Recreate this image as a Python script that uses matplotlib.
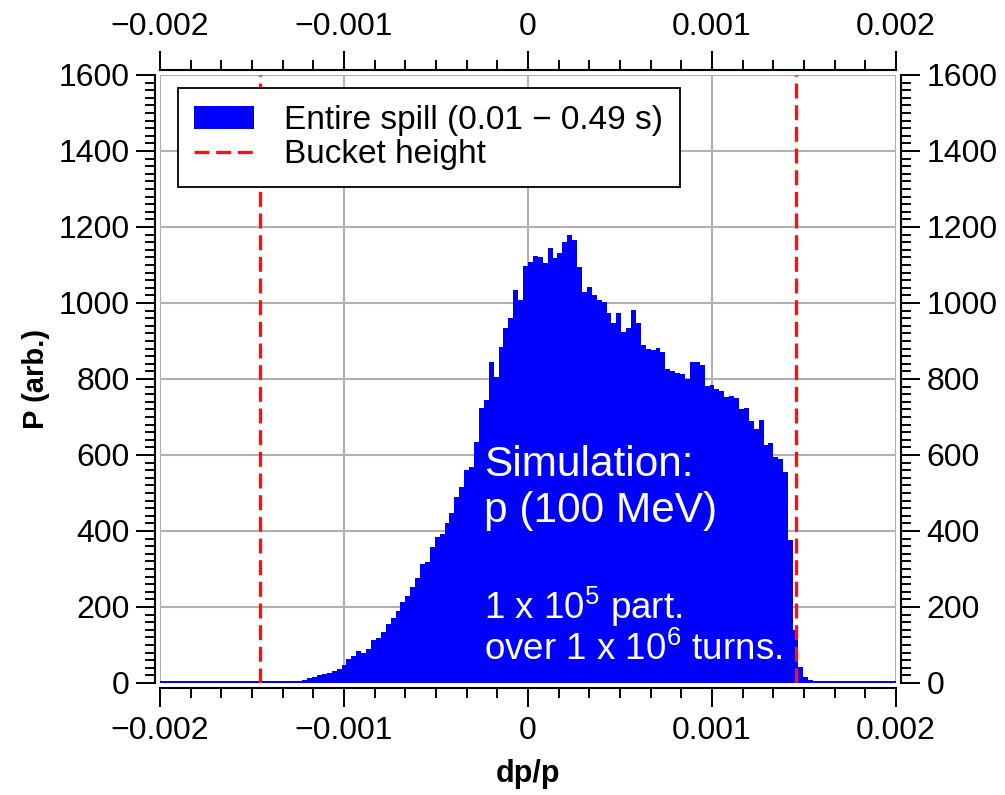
import numpy as np
import matplotlib
matplotlib.use('Agg')
import matplotlib.pyplot as plt
from matplotlib.ticker import AutoMinorLocator

plt.rcParams['font.family'] = ['Liberation Sans', 'DejaVu Sans']
plt.rcParams['mathtext.fontset'] = 'custom'
plt.rcParams['mathtext.rm'] = 'Liberation Sans'

# histogram range and per-bin counts (150 bins over dp/p = -0.002 ... 0.002)
X_MIN, X_MAX, N_BINS = -0.002, 0.002, 150
COUNTS = [
    5, 5, 5, 5, 5, 5, 5, 5, 5, 5,
    5, 5, 5, 5, 5, 5, 5, 5, 5, 5,
    5, 5, 5, 5, 5, 5, 5, 6, 6, 7,
    12, 16, 20, 24, 27, 32, 36, 48, 62, 70,
    84, 78, 90, 112, 118, 135, 155, 172, 190, 214,
    230, 252, 276, 312, 318, 358, 385, 392, 421, 447,
    490, 516, 560, 568, 634, 725, 745, 846, 806, 885,
    933, 960, 1034, 1008, 1097, 1108, 1124, 1120, 1105, 1145,
    1118, 1132, 1161, 1179, 1166, 1096, 1030, 1043, 1021, 1008,
    1003, 973, 947, 973, 925, 933, 982, 947, 889, 880,
    876, 882, 872, 826, 820, 817, 812, 800, 846, 844,
    838, 782, 784, 773, 768, 753, 755, 750, 720, 723,
    690, 668, 692, 626, 631, 595, 590, 556, 376, 139,
    43, 17, 8, 5, 5, 5, 5, 5, 5, 5,
    5, 5, 5, 5, 5, 5, 5, 5, 5, 5,
]
BUCKET_HEIGHT = 0.001455

X_TICKS = [-0.002, -0.001, 0, 0.001, 0.002]
X_TICK_LABELS = ['\u22120.002', '\u22120.001', '0', '0.001', '0.002']
Y_TICKS = [0, 200, 400, 600, 800, 1000, 1200, 1400, 1600]

SPILL_LABEL = 'Entire spill (0.01 \u2212 0.49 s)'
BUCKET_LABEL = 'Bucket height'


def main():
    edges = np.linspace(X_MIN, X_MAX, N_BINS + 1)
    counts = np.array(COUNTS, dtype=float)

    fig = plt.figure(figsize=(10.05, 7.95), dpi=100)
    ax = fig.add_axes([160 / 1005, 1 - 683 / 795, 736 / 1005, 608 / 795])

    ax.hist(edges[:-1], bins=edges, weights=counts, histtype='stepfilled',
            color='#0000ff', label=SPILL_LABEL, zorder=2)
    for x in (-BUCKET_HEIGHT, BUCKET_HEIGHT):
        ax.axvline(x, color='#ff1010', lw=2.4, dashes=(4.5, 2), zorder=3,
                   label=BUCKET_LABEL if x > 0 else None)

    ax.set_xlim(X_MIN, X_MAX)
    ax.set_ylim(0, 1600)
    ax.set_xticks(X_TICKS, X_TICK_LABELS)
    ax.set_yticks(Y_TICKS)
    ax.xaxis.set_minor_locator(AutoMinorLocator(6))
    ax.yaxis.set_minor_locator(AutoMinorLocator(10))

    ax.grid(True, which='major', color='#b0b0b0', lw=1.5, zorder=0)
    ax.set_axisbelow(True)
    for side in ('left', 'right', 'top', 'bottom'):
        ax.spines[side].set_position(('outward', 3.5))
        ax.spines[side].set_linewidth(1.5)
    ax.tick_params(which='both', direction='out', top=True, right=True,
                   labeltop=True, labelright=True, width=1.4,
                   labelsize=23, pad=5)
    ax.tick_params(axis='x', which='major', pad=7)
    ax.tick_params(which='major', length=13.5)
    ax.tick_params(which='minor', length=7.5)

    ax.set_xlabel('dp/p', fontsize=22, fontweight='bold', labelpad=9)
    ax.set_ylabel('P (arb.)', fontsize=21, fontweight='bold', labelpad=6)

    ax.text(0.44, 0.392, 'Simulation:\np (100 MeV)', transform=ax.transAxes,
            color='white', fontsize=30.5, va='top', ha='left', linespacing=1.2)
    ax.text(0.44, 0.162, '1 x 10$^{5}$ part.\nover 1 x 10$^{6}$ turns.',
            transform=ax.transAxes, color='white', fontsize=26.5, va='top',
            ha='left', linespacing=1.05)

    leg = ax.legend(loc='upper left', bbox_to_anchor=(0.024, 0.978),
                    fontsize=24, frameon=True, fancybox=False, framealpha=1,
                    edgecolor='black', borderpad=0.5, labelspacing=0.1,
                    handlelength=1.8, handletextpad=0.9, borderaxespad=0)
    leg.get_frame().set_linewidth(1.3)

    fig.savefig('out.png', dpi=100)


if __name__ == '__main__':
    main()
